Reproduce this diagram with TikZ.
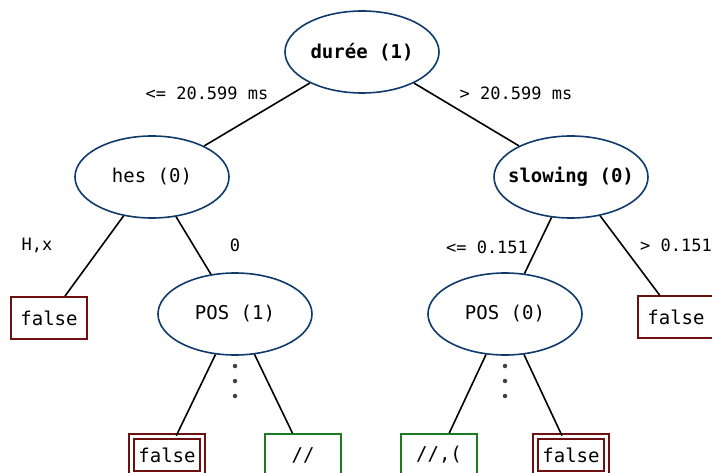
\documentclass[tikz,border=0pt]{standalone}
\usepackage{fontspec}
\setmonofont{DejaVu Sans Mono}
\usetikzlibrary{shapes.geometric}
\definecolor{nodeblue}{HTML}{0F3A6C}
\definecolor{leafred}{HTML}{6E1010}
\definecolor{leafgreen}{HTML}{1E7A1E}
\begin{document}
\begin{tikzpicture}[x=1pt,y=-1pt,
  every node/.style={font=\fontsize{19}{22}\selectfont\ttfamily},
  inner/.style={ellipse,draw=nodeblue,line width=1.6pt,fill=white,minimum width=154pt,minimum height=82pt,inner xsep=-10pt,inner ysep=0pt},
  leafbox/.style={rectangle,draw=leafred,line width=1.6pt,fill=white,minimum width=76pt,minimum height=42pt,inner sep=0pt},
  leafdouble/.style={rectangle,draw=leafred,line width=1.6pt,double=white,double distance=3pt,fill=white,minimum width=71pt,minimum height=37pt,inner sep=0pt},
  leafgood/.style={rectangle,draw=leafgreen,line width=1.6pt,fill=white,minimum width=76pt,minimum height=42pt,inner sep=0pt},
  edge/.style={draw=black,line width=1.6pt},
  lbl/.style={inner sep=0pt,font=\fontsize{17}{20}\selectfont\ttfamily},
  dot/.style={circle,fill=black!75,inner sep=0pt,minimum size=4.5pt}]
\useasboundingbox (0,0) rectangle (712,473);
% dots
\node[dot] (d1a) at (235,366) {};
\node[dot] (d1b) at (235,381) {};
\node[dot] (d1c) at (235,396) {};
\node[dot] (d2a) at (505,366) {};
\node[dot] (d2b) at (505,381) {};
\node[dot] (d2c) at (505,396) {};
% nodes
\node[inner] (root) at (362,52) {\bfseries durée (1)};
\node[inner] (hes) at (152,177) {hes (0)};
\node[inner] (slow) at (571,177) {\bfseries slowing (0)};
\node[inner] (pos1) at (235,314) {POS (1)};
\node[inner] (pos0) at (505,314) {POS (0)};
\node[leafbox] (f1) at (49,318) {false};
\node[leafbox] (f2) at (676,317) {false};
\node[leafdouble] (f3) at (167,455) {false};
\node[leafgood] (g1) at (303,455) {//};
\node[leafgood] (g2) at (439,455) {//,(};
\node[leafdouble] (f4) at (571,455) {false};
% edges
\draw[edge] (root) -- (hes);
\draw[edge] (root) -- (slow);
\draw[edge] (hes) -- (f1);
\draw[edge] (hes) -- (pos1);
\draw[edge] (slow) -- (pos0);
\draw[edge] (slow) -- (f2);
\draw[edge] (pos1) -- (f3);
\draw[edge] (pos1) -- (g1);
\draw[edge] (pos0) -- (g2);
\draw[edge] (pos0) -- (f4);
% labels
\node[lbl] (l1) at (207,93) {<= 20.599 ms};
\node[lbl] (l2) at (516,93) {> 20.599 ms};
\node[lbl] (l3) at (37,245) {H,x};
\node[lbl] (l4) at (235,245) {0};
\node[lbl] (l5) at (487,247) {<= 0.151};
\node[lbl] (l6) at (676,245) {> 0.151};
\end{tikzpicture}
\end{document}
